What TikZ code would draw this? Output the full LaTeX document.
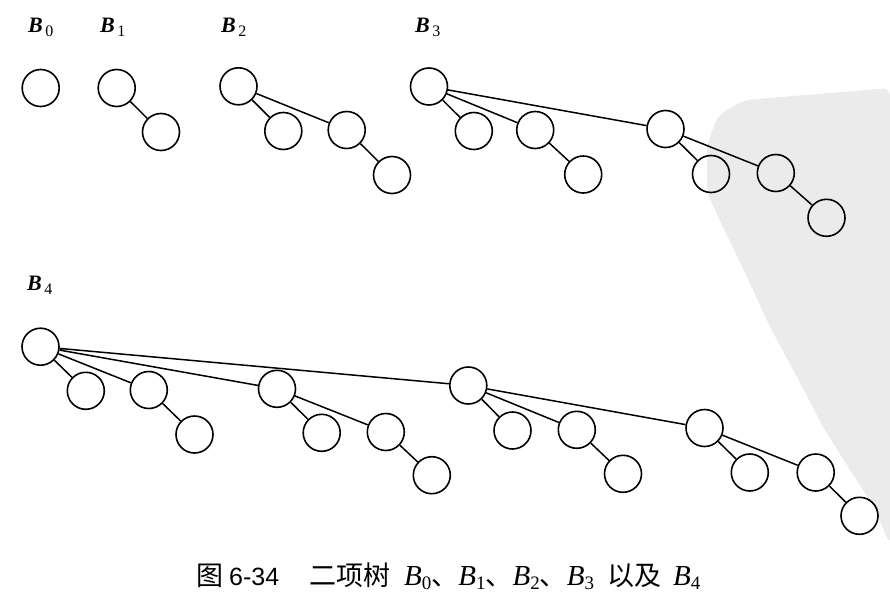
\documentclass[tikz,border=0pt]{standalone}
\usepackage{fontspec}
\setmainfont{Liberation Serif}
\newfontfamily\cjk{Noto Sans CJK SC}
\newfontfamily\arialf{Liberation Sans}
\newcommand{\BL}[1]{{\fontsize{22}{22}\selectfont\bfseries\itshape B}\hspace{2.5pt}\raisebox{-4pt}{\fontsize{16}{16}\selectfont #1}}
\newcommand{\Bc}[1]{{\fontsize{29}{29}\selectfont\itshape B}\raisebox{-4pt}{\fontsize{19}{19}\selectfont #1}}
\begin{document}
\begin{tikzpicture}[x=1pt,y=-1pt,
  nd/.style={circle,draw,minimum size=37pt,inner sep=0pt,line width=1.6pt},
  ed/.style={line width=1.5pt},
  lab/.style={anchor=base west,inner sep=0pt},
  wm/.style={fill=black!8,draw=none}]
\useasboundingbox (0,0) rectangle (890,602);
% watermark
\fill[wm,rounded corners=8pt] (707,145) -- (718,115) -- (745,100) -- (890,88) -- (890,545) -- (873,505) -- (850,470) -- (823,427) -- (797,377) -- (770,327) -- (747,277) -- (723,227) -- (707,193) -- cycle;
% labels
\node[lab] (l0) at (28,33) {\BL{0}};
\node[lab] (l1) at (100,33) {\BL{1}};
\node[lab] (l2) at (221,33) {\BL{2}};
\node[lab] (l3) at (415,33) {\BL{3}};
\node[lab] (l4) at (27,290) {\BL{4}};
% B0
\node[nd] (a0) at (40.7,88) {};
% B1
\node[nd] (b0) at (116.7,88) {};
\node[nd] (b1) at (161,132) {};
\draw[ed] (b0)--(b1);
% B2
\node[nd] (c0) at (238.5,86.3) {};
\node[nd] (c1) at (283.3,131) {};
\node[nd] (c2) at (346.7,130) {};
\node[nd] (c3) at (392,175) {};
\draw[ed] (c0)--(c1) (c0)--(c2) (c2)--(c3);
% B3
\node[nd] (d0) at (429,86.5) {};
\node[nd] (d1) at (473.8,131) {};
\node[nd] (d2) at (535.2,130) {};
\node[nd] (d3) at (583.2,174.5) {};
\node[nd] (d4) at (665.5,129) {};
\node[nd] (d5) at (711,174) {};
\node[nd] (d6) at (775.8,173) {};
\node[nd] (d7) at (826.5,217.8) {};
\draw[ed] (d0)--(d1) (d0)--(d2) (d2)--(d3) (d0)--(d4) (d4)--(d5) (d4)--(d6) (d6)--(d7);
% B4
\node[nd] (e0) at (40.5,346.7) {};
\node[nd] (e1) at (85.8,390.8) {};
\node[nd] (e2) at (148.8,390) {};
\node[nd] (e3) at (194.5,434.5) {};
\node[nd] (e4) at (277,388.8) {};
\node[nd] (e5) at (321.7,432.8) {};
\node[nd] (e6) at (385.8,432) {};
\node[nd] (e7) at (431.8,475.2) {};
\node[nd] (e8) at (468.3,385.5) {};
\node[nd] (e9) at (512.5,430.5) {};
\node[nd] (e10) at (576.8,429.8) {};
\node[nd] (e11) at (623,473.8) {};
\node[nd] (e12) at (704.5,428) {};
\node[nd] (e13) at (749.8,472.5) {};
\node[nd] (e14) at (815.7,472.5) {};
\node[nd] (e15) at (859.5,515.8) {};
\draw[ed] (e0)--(e1) (e0)--(e2) (e2)--(e3) (e0)--(e4) (e4)--(e5) (e4)--(e6) (e6)--(e7)
  (e0)--(e8) (e8)--(e9) (e8)--(e10) (e10)--(e11) (e8)--(e12) (e12)--(e13) (e12)--(e14) (e14)--(e15);
% caption
\node[anchor=base west,inner sep=0pt] (cap) at (196,585) {\fontsize{27}{27}\selectfont{\cjk 图}\hspace{6pt}{\fontsize{25}{25}\selectfont\arialf 6-34}\hspace{30pt}{\cjk 二项树}\hspace{14pt}\Bc{0}{\cjk 、}\Bc{1}{\cjk 、}\Bc{2}{\cjk 、}\Bc{3}\hspace{13pt}{\cjk 以及}\hspace{12pt}\Bc{4}};
\end{tikzpicture}
\end{document}
